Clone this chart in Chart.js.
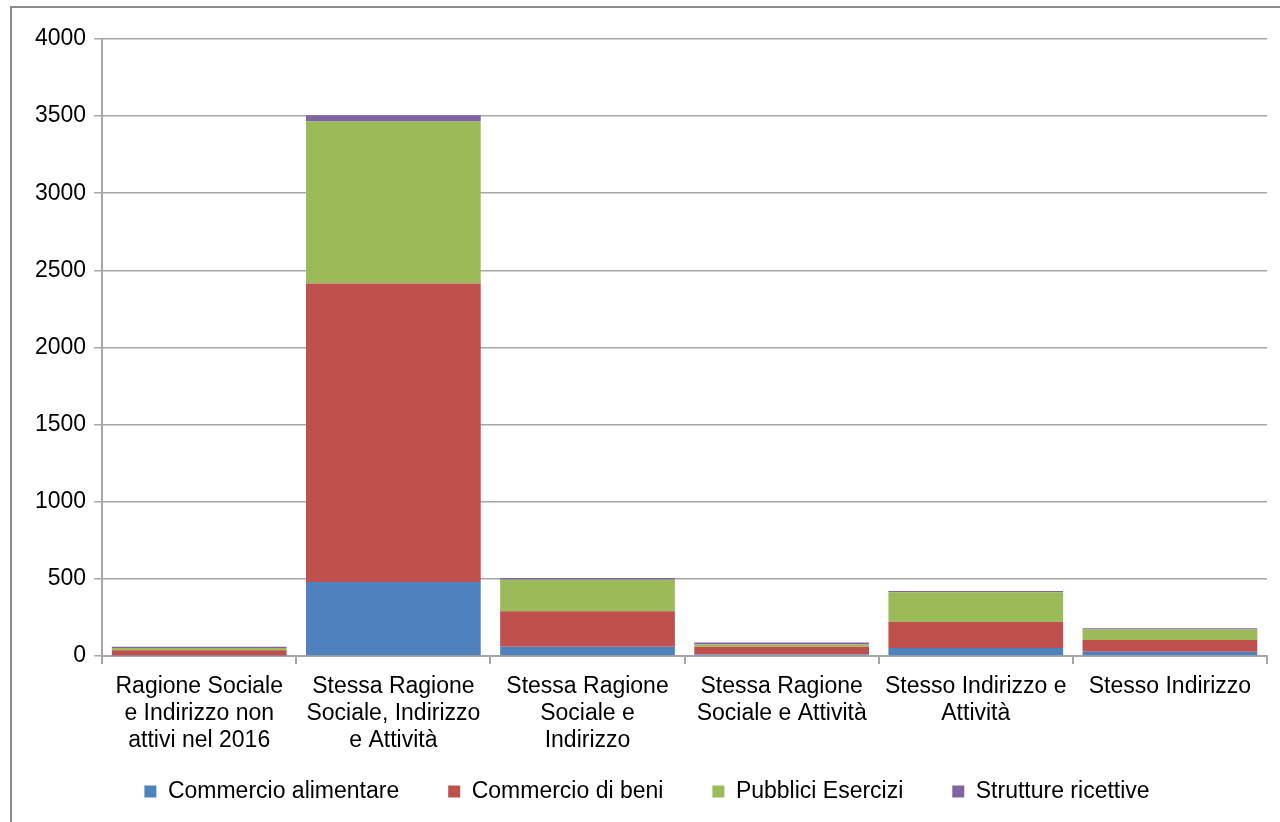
<!DOCTYPE html>
<html>
<head>
<meta charset="utf-8">
<script src="https://cdn.jsdelivr.net/npm/chart.js@4"></script>
<style>
  html, body { margin: 0; padding: 0; background: #fff; overflow: hidden; }
  #frame {
    position: absolute; left: 10px; top: 6px; width: 1275px; height: 820px;
    border-left: 2px solid #8c8c8c; border-top: 2px solid #8c8c8c; box-sizing: border-box;
  }
  #wrap { position: absolute; left: 0; top: 0; width: 1280px; height: 822px; }
</style>
</head>
<body>
<div id="frame"></div>
<div id="wrap"><canvas id="barChart"></canvas></div>
<script>
const categories = [
  ['Ragione Sociale', 'e Indirizzo non', 'attivi nel 2016'],
  ['Stessa Ragione', 'Sociale, Indirizzo', 'e Attività'],
  ['Stessa Ragione', 'Sociale e', 'Indirizzo'],
  ['Stessa Ragione', 'Sociale e Attività'],
  ['Stesso Indirizzo e', 'Attività'],
  ['Stesso Indirizzo'],
];

const commercioAlimentare = [3, 480, 60, 10, 52, 28];
const commercioBeni = [35, 1935, 230, 50, 168, 76];
const pubbliciEsercizi = [14, 1050, 205, 15, 193, 67];
const struttureRicettive = [8, 40, 10, 12, 9, 9];

const yTicks = [0, 500, 1000, 1500, 2000, 2500, 3000, 3500, 4000];

const font = { family: '"Liberation Sans", Arial, sans-serif', size: 23, lineHeight: 1.174 };

const makeSet = (label, data, color) => ({
  label: label,
  data: data,
  backgroundColor: color,
  borderWidth: 0,
  barPercentage: 0.9,
  categoryPercentage: 1.0,
});

new Chart(document.getElementById('barChart'), {
  type: 'bar',
  data: {
    labels: categories,
    datasets: [
      makeSet('Commercio alimentare', commercioAlimentare, '#4F81BD'),
      makeSet('Commercio di beni', commercioBeni, '#C0504D'),
      makeSet('Pubblici Esercizi', pubbliciEsercizi, '#9BBB59'),
      makeSet('Strutture ricettive', struttureRicettive, '#8064A2'),
    ],
  },
  options: {
    responsive: true,
    maintainAspectRatio: false,
    animation: false,
    layout: { padding: { left: 27, right: 13, top: 39, bottom: 9 } },
    plugins: {
      legend: {
        position: 'bottom',
        labels: {
          font: font,
          color: '#000',
          boxWidth: 12,
          boxHeight: 12,
          padding: 17,
          generateLabels: (chart) => {
            const items = Chart.defaults.plugins.legend.labels.generateLabels(chart);
            // pad names so the items sit as far apart as in the original
            items.forEach((item, i) => {
              if (i < items.length - 1) item.text = item.text + '     ';
            });
            return items;
          },
        },
      },
      tooltip: { enabled: false },
    },
    scales: {
      x: {
        stacked: true,
        offset: true,
        grid: {
          display: true,
          drawOnChartArea: false,
          drawTicks: true,
          tickLength: 8,
          color: '#a6a6a6',
          lineWidth: 2,
          offset: true,
        },
        border: { color: '#a6a6a6', width: 2 },
        ticks: { font: font, color: '#000', maxRotation: 0, autoSkip: false, padding: 9 },
      },
      y: {
        stacked: true,
        min: 0,
        max: 4000,
        afterBuildTicks: (axis) => { axis.ticks = yTicks.map((v) => ({ value: v })); },
        grid: { color: '#a6a6a6', lineWidth: 1.5, tickLength: 8 },
        border: { color: '#a6a6a6', width: 2 },
        ticks: { font: font, color: '#000', padding: 8, callback: (v) => String(v) },
      },
    },
  },
});
</script>
</body>
</html>
